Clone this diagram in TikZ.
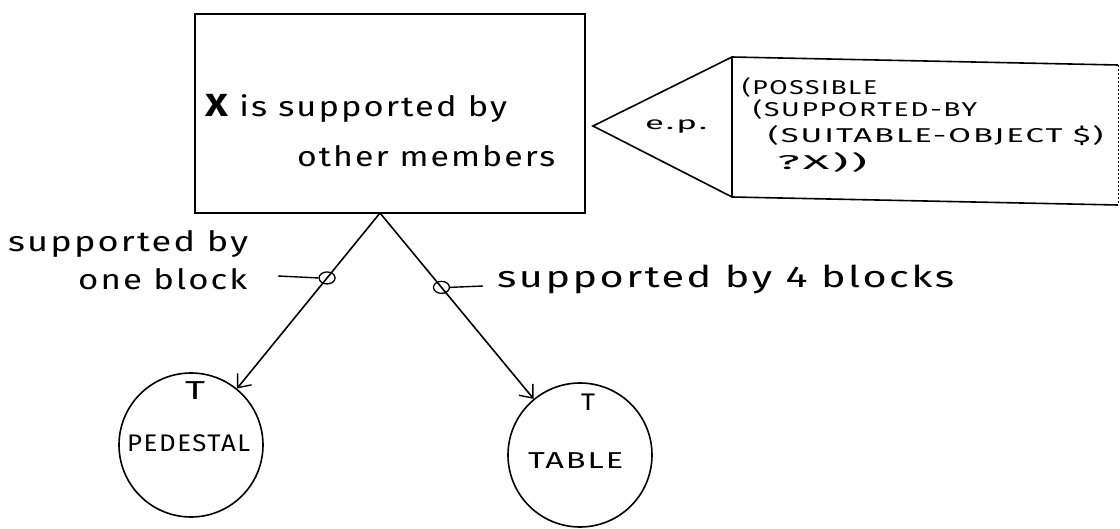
\documentclass[tikz,border=0pt]{standalone}
\usepackage{fontspec}
\usepackage{graphicx}
\setmainfont{Fira Sans}
\usetikzlibrary{arrows.meta,shapes.geometric}
% text set slightly loose at a given size and brought to a given width, height kept
\newcommand{\fitted}[3]{{\fontsize{#2}{#2}\selectfont\addfontfeature{LetterSpace=6}\resizebox{#1}{\height}{#3}}}

\begin{document}
\begin{tikzpicture}[x=1pt,y=-1pt,
  ink/.style={line width=1.6pt, draw=black},
  txt/.style={inner sep=0pt, anchor=base west},
  tag/.style={draw, line width=1.3pt, ellipse, minimum width=16pt, minimum height=12pt, inner sep=0pt},
  leaf/.style={draw, circle, line width=1.6pt, minimum size=144pt, inner sep=0pt},
  barb/.style={-{Straight Barb[length=11pt,width=18pt,line width=1.4pt]}}
]
\useasboundingbox (0,0) rectangle (1120,529);

% goal box
\node[ink, draw, rectangle, minimum width=390pt, minimum height=199pt, inner sep=0pt] (goal) at (390,113.5) {};
\node[txt] (g1) at (205,117) {\fitted{302pt}{28}{{\fontsize{32}{32}\selectfont\bfseries X} is supported by}};
\node[txt] (g2) at (297,167) {\fitted{258pt}{28}{other members}};

% e.p. tag with its pattern
\coordinate (apex) at (593,126);
\coordinate (tl) at (732,57);
\coordinate (bl) at (732,197);
\coordinate (tr) at (1118,65);
\coordinate (br) at (1118,205);
\draw[ink, line join=miter] (tr) -- (tl) -- (apex) -- (bl) -- (br);
\draw[ink] (tl) -- (bl);
\draw[line width=1pt, dash pattern=on 2pt off 2pt] (tr) -- (br);
\node[txt] (ep) at (645,130) {\fitted{62pt}{18}{e.p.}};
\node[txt] (c1) at (742,95) {\fitted{135pt}{20}{(POSSIBLE}};
\node[txt] (c2) at (753,117) {\fitted{224pt}{20}{(SUPPORTED-BY}};
\node[txt] (c3) at (768,143) {\fitted{335pt}{20}{(SUITABLE-OBJECT \$)}};
\node[txt] (c4) at (777,170) {\fitted{90pt}{20}{?X))}};

% leaves
\node[leaf] (ped) at (191,445) {};
\node[leaf] (tab) at (580,455) {};
\node[inner sep=0pt, anchor=base] (pt) at (195,400) {\fitted{20pt}{26}{T}};
\node[inner sep=0pt, anchor=base] (tt) at (588,410) {\fitted{14pt}{24}{T}};
\node[txt] (pn) at (127,452) {\fitted{123pt}{24}{PEDESTAL}};
\node[txt] (tn) at (528,468) {\fitted{95pt}{23}{TABLE}};

% branches
\coordinate (fork) at (380,213);
\draw[ink, barb] (fork) -- node[tag, pos=0.37] (lc) {} (ped);
\draw[ink, barb] (fork) -- node[tag, pos=0.40] (rc) {} (tab);

% branch labels
\node[txt] (ll1) at (8,252) {\fitted{240pt}{28}{supported by}};
\node[txt] (ll2) at (78,290) {\fitted{169pt}{28}{one block}};
\coordinate (lt) at (278,276);
\draw[line width=1.4pt] (lt) -- (lc.west);
\node[txt] (rl) at (497,288) {\fitted{457pt}{30}{supported by 4 blocks}};
\coordinate (rt) at (483,286);
\draw[line width=1.4pt] (rc.east) -- (rt);
\end{tikzpicture}
\end{document}
